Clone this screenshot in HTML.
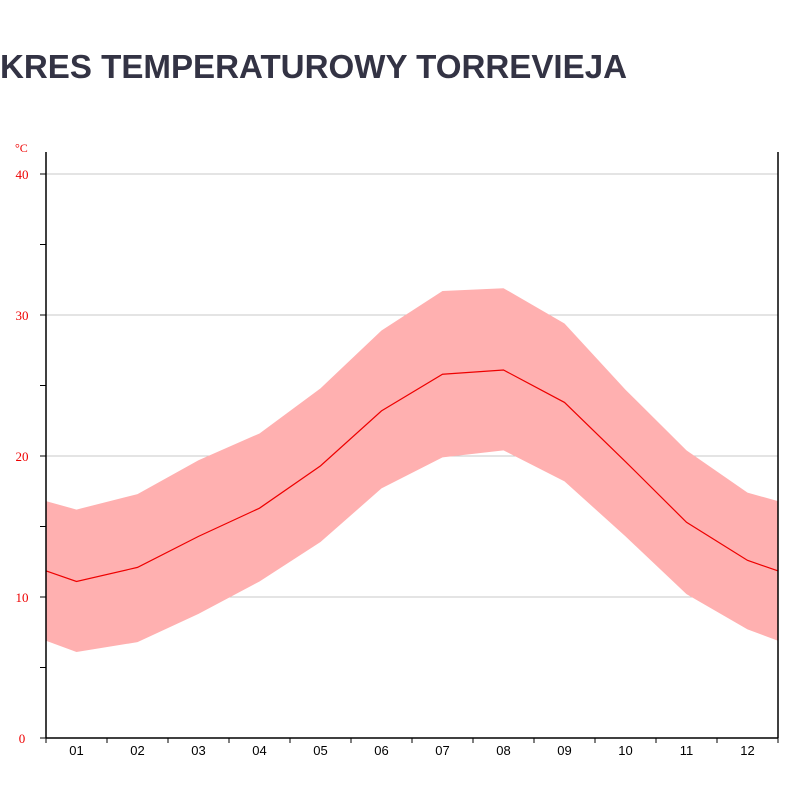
<!DOCTYPE html>
<html><head><meta charset="utf-8"><style>
body{margin:0;background:#fff;width:800px;height:800px;overflow:hidden}
svg{display:block}
</style></head><body>
<svg id="chart" width="800" height="800">
<text x="0" y="78" font-family="Liberation Sans, sans-serif" font-weight="bold" font-size="33" fill="#333344" textLength="627" lengthAdjust="spacingAndGlyphs">KRES TEMPERATUROWY TORREVIEJA</text>
<text x="15" y="152" font-family="Liberation Serif, serif" font-size="12" fill="#e00">°C</text>
<g id="grid"></g>
<g id="plot"></g>
<g id="axes"></g>
</svg>
<script>
const months = ["01","02","03","04","05","06","07","08","09","10","11","12"];
const meanT = [11.1,12.1,14.3,16.3,19.3,23.2,25.8,26.1,23.8,19.6,15.3,12.6];
const highT = [16.2,17.3,19.7,21.6,24.8,28.9,31.7,31.9,29.4,24.7,20.4,17.4];
const lowT  = [6.1,6.8,8.8,11.1,13.9,17.7,19.9,20.4,18.2,14.3,10.2,7.7];
const yTicks = [0,10,20,30,40];
const NS="http://www.w3.org/2000/svg";
const L=46,R=778,T=174,B=738;
const step=(R-L)/12;
function x(i){return L+step*(i+0.5);}
function y(v){return B-(v/40)*(B-T);}
function mk(tag,attrs,parent){const e=document.createElementNS(NS,tag);for(const k in attrs)e.setAttribute(k,attrs[k]);parent.appendChild(e);return e;}
const svg=document.getElementById('chart');
const grid=document.getElementById('grid'),plot=document.getElementById('plot'),axes=document.getElementById('axes');
yTicks.forEach(v=>{
  if(v>0){const g=mk('line',{x1:L,x2:R,y1:y(v),y2:y(v),stroke:'#c8c8c8','stroke-width':1},grid);
  
  }
  const t=mk('text',{x:22,y:y(v)+5,'text-anchor':'middle','font-family':'Liberation Serif, serif','font-size':13,fill:'#e00'},axes);
  t.textContent=v;
  
  
});
for(let v=0;v<=40;v+=5){mk('line',{x1:40,x2:L,y1:y(v),y2:y(v),stroke:'#000','stroke-width':1},axes);}
// clip
const defs=mk('defs',{},svg);const cp=mk('clipPath',{id:'pc'},defs);mk('rect',{x:L,y:0,width:R-L,height:800},cp);
plot.setAttribute('clip-path','url(#pc)');
const n=months.length;
function ext(arr){const pts=[[x(-1),arr[n-1]]];arr.forEach((v,i)=>pts.push([x(i),v]));pts.push([x(n),arr[0]]);return pts;}
const hi=ext(highT),lo=ext(lowT),me=ext(meanT);
let d='M'+hi.map(p=>p[0]+','+y(p[1])).join('L')+'L'+lo.slice().reverse().map(p=>p[0]+','+y(p[1])).join('L')+'Z';
const band=mk('path',{d:d,fill:'#ffb0b0'},plot);


const line=mk('polyline',{points:me.map(p=>p[0]+','+y(p[1])).join(' '),fill:'none',stroke:'#e00','stroke-width':1.2},plot);


mk('line',{x1:L,x2:L,y1:152,y2:B,stroke:'#000','stroke-width':1.5},axes);
mk('line',{x1:R,x2:R,y1:152,y2:B,stroke:'#000','stroke-width':1.5},axes);
mk('line',{x1:L,x2:R,y1:B,y2:B,stroke:'#000','stroke-width':1.5},axes);
for(let i=0;i<=n;i++){mk('line',{x1:L+step*i,x2:L+step*i,y1:B,y2:B+5,stroke:'#000','stroke-width':1},axes);}
months.forEach((m,i)=>{
  const t=mk('text',{x:x(i),y:755,'text-anchor':'middle','font-family':'Liberation Sans, sans-serif','font-size':13,fill:'#000'},axes);
  t.textContent=m;
  
  
});
</script>
</body></html>
